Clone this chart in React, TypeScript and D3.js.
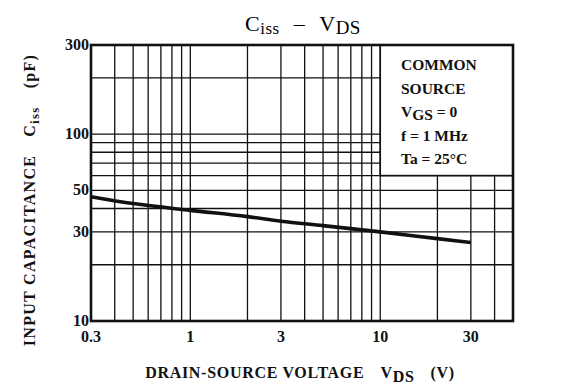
import React from "react";
import * as d3 from "d3";

// Ciss vs VDS
const vds = [0.3, 0.5, 1, 2, 3, 5, 10, 20, 30];
const ciss = [46.3, 42.5, 39.1, 36.2, 34.2, 32.4, 30, 27.6, 26.3];

const xTicks = [0.3, 1, 3, 10, 30];
const yTicks = [10, 30, 50, 100, 300];
const xGrid = [0.4, 0.5, 0.6, 0.7, 0.8, 0.9, 1, 2, 3, 4, 5, 6, 7, 8, 9, 10, 20, 30, 40];
const yGrid = [20, 30, 40, 50, 60, 70, 80, 90, 100, 200];
const conditions = ["COMMON", "SOURCE", "VGS = 0", "f = 1 MHz", "Ta = 25°C"];

const W = 579;
const H = 390;
const m = { left: 91, right: 513, top: 45, bottom: 321 };
const font = "'Liberation Serif', 'Times New Roman', serif";

const App = () => {
  const x = d3.scaleLog().domain([0.3, 50]).range([m.left, m.right]);
  const y = d3.scaleLog().domain([10, 300]).range([m.bottom, m.top]);

  const line = d3
    .line<number>()
    .x((d, i) => x(vds[i]))
    .y((d) => y(d))
    .curve(d3.curveMonotoneX);

  const boxX = x(10);
  const boxY = y(60);

  return (
    <svg
      width={W}
      height={H}
      style={{ position: "absolute", left: 0, top: 0, background: "#fff" }}
      fontFamily={font}
    >
      {/* title */}
      <text x={303} y={31} textAnchor="middle" fontSize={22} letterSpacing={0.5}>
        C<tspan fontSize={17} dy={3}>iss</tspan>
        <tspan dy={-3} dx={14}>–</tspan>
        <tspan dx={14}>V</tspan>
        <tspan fontSize={19} dy={3}>DS</tspan>
      </text>

      {/* grid */}
      <g stroke="#111" strokeWidth={1.3}>
        {xGrid.map((v) => (
          <line
            key={"x" + v}
            x1={x(v)}
            x2={x(v)}
            y1={m.bottom}
            y2={v > 10 ? boxY : m.top}
          />
        ))}
        {yGrid.map((v) => (
          <line
            key={"y" + v}
            x1={m.left}
            x2={v > 60 ? boxX : m.right}
            y1={y(v)}
            y2={y(v)}
          />
        ))}
      </g>

      {/* conditions box */}
      <rect
        x={boxX}
        y={m.top}
        width={m.right - boxX}
        height={boxY - m.top}
        fill="none"
        stroke="#111"
        strokeWidth={1.6}
      />
      <g fontSize={15.5} fontWeight="bold" fill="#111">
        {conditions.map((t, i) => {
          const ty = 70 + i * 23.6;
          if (t.startsWith("VGS")) {
            return (
              <text key={t} x={401} y={ty}>
                V<tspan dy={3}>GS</tspan>
                <tspan dy={-3}> = 0</tspan>
              </text>
            );
          }
          return (
            <text key={t} x={401} y={ty}>
              {t}
            </text>
          );
        })}
      </g>

      {/* frame */}
      <rect
        x={m.left}
        y={m.top}
        width={m.right - m.left}
        height={m.bottom - m.top}
        fill="none"
        stroke="#111"
        strokeWidth={2.6}
      />

      {/* curve */}
      <path d={line(ciss) || ""} fill="none" stroke="#111" strokeWidth={3.6} />

      {/* tick labels */}
      <g fontSize={16} fontWeight="bold" fill="#111">
        {yTicks.map((v) => (
          <text key={"yt" + v} x={89} y={y(v) + 5} textAnchor="end">
            {v}
          </text>
        ))}
        {xTicks.map((v) => (
          <text key={"xt" + v} x={x(v)} y={342} textAnchor="middle">
            {v}
          </text>
        ))}
      </g>

      {/* axis titles */}
      <text
        x={300}
        y={378}
        textAnchor="middle"
        fontSize={16}
        fontWeight="bold"
        fill="#111"
        letterSpacing={0.7}
      >
        DRAIN-SOURCE VOLTAGE
        <tspan dx={16}>V</tspan>
        <tspan dy={4}>DS</tspan>
        <tspan dy={-4} dx={16}>(V)</tspan>
      </text>
      <text
        transform="translate(35,200) rotate(-90)"
        textAnchor="middle"
        fontSize={16}
        fontWeight="bold"
        fill="#111"
        letterSpacing={1.3}
      >
        INPUT CAPACITANCE
        <tspan dx={18}>C</tspan>
        <tspan dy={4} fontSize={13}>iss</tspan>
        <tspan dy={-4} dx={18}>(pF)</tspan>
      </text>
    </svg>
  );
};

export default App;
